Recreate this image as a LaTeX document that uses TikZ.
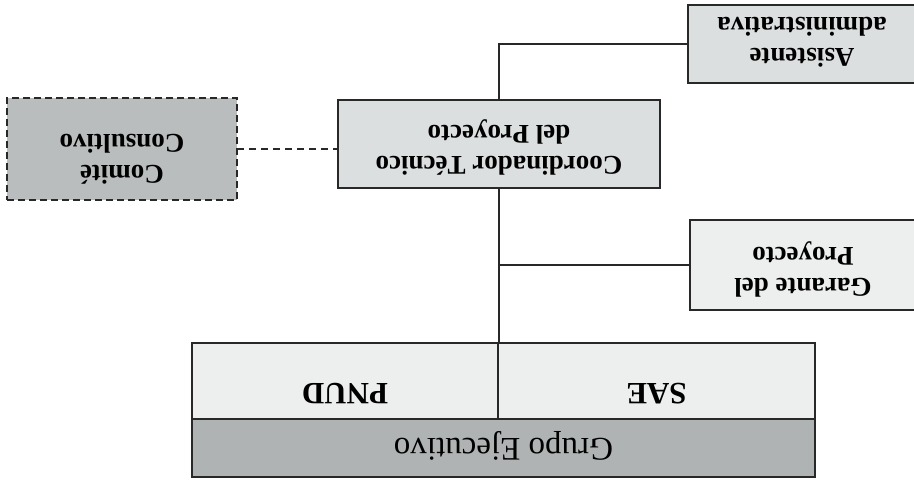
\documentclass[tikz,border=0pt]{standalone}
\usepackage{fontspec}
\setmainfont{Liberation Serif}
\usetikzlibrary{positioning,calc}

\definecolor{boxline}{RGB}{40,40,40}
\definecolor{darkfill}{RGB}{186,189,189}
\definecolor{midfill}{RGB}{220,223,224}
\definecolor{lightfill}{RGB}{237,238,238}
\definecolor{grupofill}{RGB}{176,179,179}

% upside-down text, optional shift
\newcommand{\flip}[2][0pt]{\raisebox{#1}[\height][\depth]{\rotatebox{180}{\begin{tabular}{@{}c@{}}#2\end{tabular}}}}

\tikzstyle{box} = [draw=boxline, line width=1.8pt, outer sep=0pt, inner sep=0pt, font=\fontsize{27}{31}\selectfont\bfseries]
\tikzstyle{dbox} = [box, fill=darkfill, dash pattern=on 7pt off 4pt]
\tikzstyle{mbox} = [box, fill=midfill]
\tikzstyle{lbox} = [box, fill=lightfill]
\tikzstyle{orgbox} = [box, fill=lightfill, minimum height=76pt, font=\fontsize{31}{37}\selectfont\bfseries]
\tikzstyle{link} = [draw=boxline, line width=1.6pt]
\tikzstyle{dlink} = [link, dash pattern=on 7pt off 5pt]

\begin{document}
\begin{tikzpicture}[x=1pt, y=-1pt]
    \useasboundingbox (0,0) rectangle (914,481);

    % coordinator
    \node[mbox, minimum width=322pt, minimum height=88pt] (coord) at (499,144) {\flip[-3pt]{Coordinador Técnico\\del Proyecto}};

    % side boxes
    \node[dbox, minimum width=230pt, minimum height=102pt] (comite) at (122,149) {\flip[-7pt]{Comité\\Consultivo}};
    \node[mbox, minimum width=228pt, minimum height=78pt] (asist) at (802,44) {\flip[5pt]{Asistente\\administrativa}};
    \node[lbox, minimum width=226pt, minimum height=90pt] (garante) at (803,265) {\flip[-4pt]{Garante del\\Proyecto}};

    % executive group
    \node[orgbox, minimum width=306pt] (pnud) at (345,381) {\flip[-10pt]{PNUD}};
    \node[orgbox, minimum width=317pt] (sae) [right=0pt of pnud] {\flip[-10pt]{SAE}};
    \node[box, fill=grupofill, minimum width=623pt, minimum height=58pt, anchor=north west, font=\fontsize{33}{40}\selectfont\mdseries] (grupo) at (pnud.south west) {\flip[2pt]{Grupo Ejecutivo}};

    % links
    \draw[link] (coord.north) |- (asist.west);
    \draw[link] (coord.south) -- (coord.south |- pnud.north);
    \draw[link] (garante.west) -| (coord.south);
    \draw[dlink] (comite.east) -- (comite.east -| coord.west);
\end{tikzpicture}
\end{document}
